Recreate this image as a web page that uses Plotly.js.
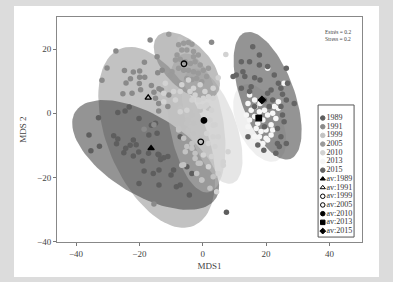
<!DOCTYPE html>
<html><head><meta charset="utf-8">
<script src="https://cdn.plot.ly/plotly-3.0.1.min.js"></script>
<style>
html,body{margin:0;padding:0;background:#dcdcdc;width:393px;height:282px;overflow:hidden}
#panel{position:absolute;left:14px;top:6px;width:365px;height:271px;background:#fff}
#chart{position:absolute;left:0;top:0;width:393px;height:282px}
</style></head><body>
<div id="panel"></div><div id="chart"></div>
<script>
// ---- data ----
const years = ['1989','1991','1999','2005','2010','2013','2015'];
const avLabels = ['av:1989','av:1991','av:1999','av:2005','av:2010','av:2013','av:2015'];

const pts1989 = [[-35.9,-6.8],[-35.3,-11.7],[-32.6,-10.3],[-32.9,-1.4],[-28.1,-7],[-26.8,-8],[-27.2,-9.5],[-26.8,0.3],[-24.5,0.7],[-23.2,2],[-24.3,-10.9],[-24.9,-12.3],[-22.9,-10],[-21.9,-8.3],[-21,-9.8],[-21.9,-13.3],[-20.2,-12.1],[-19,-14.9],[-17.1,-12.5],[-18.5,-18],[-15.6,-18.8],[-13.8,-17.7],[-14.1,-12.8],[-20.1,-21.9],[-13.8,-22.4],[-14.9,-3.1],[-14.4,-6.2],[-17,-6.8],[-13.8,-13],[-12.3,-13.9],[-11,-13.5],[-13.3,-14.4],[-10,-19.3],[-9.2,-17.7],[-8.3,-22.9],[-5,-16.7],[-3.4,-18.8],[-4.2,-25.5],[-7.1,-7.3],[-7.1,-22.4],[7.5,-30.9],[-20.1,-1.6],[-16.2,-3.7]];
const pts1991 = [[-27.4,19.5],[-30.2,14.2],[-31.8,10.3],[-24.7,13.4],[-21.9,12.9],[-19.9,13.2],[-18.4,16],[-24.2,9.5],[-22.8,10.8],[-19.9,11.3],[-18.3,11.3],[-20,9.3],[-25.2,6.1],[-22.3,6.3],[-19.6,7.4],[-16.2,8.7],[-14.2,12.7],[-12.8,13.5],[-15.4,6.6],[-13.8,7.7],[-16.6,22.9],[-14.4,17.7],[-13.9,3.1],[-14.9,4.7],[-13.9,0.7],[-15.4,-3.6],[-10.7,5.7],[-11,2.1],[-13,7.3],[-15.4,-28.3],[-18.5,-5],[2.8,22.2]];
const pts1999 = [[-7.1,1.6],[-4,0.7],[-0.8,1],[1.8,1.6],[-7.6,-5.2],[-4.5,-5.2],[-2.9,-6.3],[-5,-10.4],[-3.4,-10.9],[1.25,-11.5],[-2.4,-14.1],[-0.8,-15.6],[-6.6,-16.2],[-1.9,-18.8],[-0.3,-20.8],[3.3,-19.8],[-4.5,-2.1],[-2.9,-3.1],[-0.8,-7.8],[2.3,-23.4],[-5,-3.1],[-7.6,-4.7],[-4.5,-5.7],[-6,-7.8],[-3.4,-9.4],[-5.5,-12],[-2.4,-12.5],[-6,-16.1],[-1.4,-15.6],[-0.3,-20.8],[-6,0.5],[-3.4,-0.5],[-7.1,23.2]];
const pts2005 = [[-10.7,24.7],[-7.6,21.4],[-6,21.9],[-4.5,22.1],[-3.4,21.6],[-6.6,19.8],[-5,19.8],[-2.9,19.3],[-1.4,18.2],[-8.1,18.2],[-8.6,16.7],[-7.1,16.9],[-5.5,16.1],[-3.9,15.6],[-2.4,16.1],[-0.8,15.1],[-7.6,14.1],[-6,13.5],[-4.5,13.5],[-2.9,13],[-1.4,12.5],[0.2,13.5],[-5,10.9],[-3.4,10.6],[-1.9,10.9],[1.25,11.5],[-0.3,9.9],[1.8,14.1],[-9.7,13],[-7.1,9.4],[-2.9,17.7],[-10.2,12]];
const pts2010 = [[-2.9,7.8],[-0.8,8.9],[-4,6.8],[-2.4,5.7],[-3.4,4.2],[-1.3,4.2],[0.2,4.7],[1.25,2.6],[-0.8,2.1],[-5,1],[-7.1,0.5],[-11.8,9.4],[-12.3,6.3],[-12.3,3.6],[3.3,7.8],[4.9,11.1],[7.3,18.4],[-7.1,6.8],[3.3,4.7],[0.7,6.8],[1.8,5.2],[0.7,2.1],[2.8,1],[2.3,-2.1],[3.9,-3.6],[1.25,-6.3],[3.3,-7.3],[1.8,-9.4],[3.9,-10.4],[0.2,-13],[2.8,-13.5],[1.8,-16.7],[4.9,-18.8],[6.5,-15.1],[8,-12],[-4.5,10.4],[-6.6,8.9],[-9.2,6.8],[-8.6,4.2],[4.9,-7.3],[3.3,-3.7],[4.4,-24.5],[6.5,-16.2]];
const pts2013 = [[14.8,5.7],[16.4,4.2],[14.3,3.1],[16.6,2.1],[18.1,3.1],[15.3,1],[17.9,0.5],[19.5,1],[16.4,-1],[14.8,-2.1],[17.4,-3.1],[19,-2.1],[20.5,-0.5],[22.1,0],[23.1,-1.6],[21.6,-3.6],[20,-5.2],[18.4,-5.7],[16.9,-4.7],[17.9,-7.3],[20,-7.8],[21.6,-6.8],[19,-9.4],[20.5,-8.3],[14.3,-4.2],[16.4,-7.3],[23.9,3.6],[25.7,9.4],[20.5,14.1],[23.9,1.6],[22.6,2.1],[13.8,-0.5],[22.1,-5.2],[17.4,-1.6]];
const pts2015 = [[15.8,20.8],[17.9,18.2],[12.2,16.1],[14.8,16.1],[17.9,15.1],[20.5,14.6],[10.6,12],[12.7,13],[13.3,11.5],[16.4,11.1],[18.1,10.4],[22.6,12],[23.9,9.4],[21.6,7.3],[20.5,6.3],[24.7,7.8],[25.2,6],[26.4,4.2],[28.9,3.1],[12.2,7.8],[15.3,8.3],[9.6,11.5],[22.1,4.2],[19.5,4.2],[21,2.1],[24.7,2.1],[25.2,-0.5],[25.7,-2.6],[23.6,-4.7],[24.7,-7.3],[26.4,-9.4],[23.6,-9.4],[24.2,-10.4],[23.1,-12.5],[17.4,-9.9],[19.3,-11.5],[14.3,-7.3],[19.5,-4.2],[16.4,2.1],[14.8,6.8],[26.8,9.4],[26.4,14.1]];

// group centroids (av)
const avX = [-16.3, -17.2, -0.6, -5.9, 0.4, 17.7, 18.7];
const avY = [-10.9, 4.9, -8.9, 15.5, -2.2, -1.5, 4.2];

// dispersion ellipses: centre, semi-axes, rotation (deg)
const ellCx = [-18, -14.5, -2, -5, 3, 18, 20.5];
const ellCy = [-13, -7.5, -3, 15, -4, -3, 5.5];
const ellA  = [26, 30, 22, 13, 19, 13, 21];
const ellB  = [12.5, 15.5, 8.5, 7, 7.5, 7, 8.5];
const ellAng = [-31, -67, -80, -45, -70, -65, -70];

const stressText = 'Estrés = 0.2<br>Stress = 0.2';

// ---- styling ----
const ptColors = ['#5e5e5e','#8a8a8a','#c2c2c2','#9a9a9a','#d2d2d2','#f6f6f6','#646464'];
const ellFill = ['rgba(70,70,70,0.58)','rgba(120,120,120,0.45)','rgba(190,190,190,0.45)','rgba(110,110,110,0.45)','rgba(200,200,200,0.45)','rgba(228,228,228,0.6)','rgba(70,70,70,0.58)'];
const avSymbols = ['triangle-up','triangle-up-open','circle-open','circle-open','circle','square','diamond'];
const serif = 'Liberation Serif, Times New Roman, serif';

const allPts = [pts1989, pts1991, pts1999, pts2005, pts2010, pts2013, pts2015];
const traces = [];

// ellipses
const ellOrder = [1,0,2,4,3,5,6];
ellOrder.forEach(i => {
  const ex = [], ey = [];
  const th = ellAng[i] * Math.PI / 180;
  for (let k = 0; k <= 100; k++) {
    const t = 2 * Math.PI * k / 100;
    const u = ellA[i] * Math.cos(t), v = ellB[i] * Math.sin(t);
    ex.push(ellCx[i] + u * Math.cos(th) - v * Math.sin(th));
    ey.push(ellCy[i] + u * Math.sin(th) + v * Math.cos(th));
  }
  traces.push({x: ex, y: ey, type: 'scatter', mode: 'lines', fill: 'toself',
    fillcolor: ellFill[i], line: {width: 0, color: ellFill[i]}, hoverinfo: 'skip', showlegend: false});
});

// points
allPts.forEach((p, i) => {
  traces.push({x: p.map(d => d[0]), y: p.map(d => d[1]), type: 'scatter', mode: 'markers',
    marker: {size: 5.5, color: ptColors[i], line: {width: 0}}, name: years[i], showlegend: false});
});

// centroids
avX.forEach((_, i) => {
  traces.push({x: [avX[i]], y: [avY[i]], type: 'scatter', mode: 'markers',
    marker: {size: 5.5, symbol: avSymbols[i], color: '#000', line: {width: 1.3, color: '#000'}},
    name: avLabels[i], showlegend: false});
});

// legend drawn on an overlay axis
const legLabels = years.concat(avLabels);
const legY = legLabels.map((_, i) => i + 1);
const legSym = ['circle','circle','circle','circle','circle','circle','circle'].concat(avSymbols);
const legCol = ptColors.concat(['#000','#000','#000','#000','#000','#000','#000']);
traces.push({x: legLabels.map(() => 0.13), y: legY, xaxis: 'x2', yaxis: 'y2', type: 'scatter',
  mode: 'markers+text', text: legLabels, textposition: 'middle right', cliponaxis: false,
  textfont: {family: serif, size: 8, color: '#333'},
  marker: {size: 4.5, symbol: legSym, color: legCol, line: {width: 1, color: legCol}},
  hoverinfo: 'skip', showlegend: false});

const layout = {
  width: 393, height: 282,
  margin: {l: 57, r: 31, t: 17, b: 40},
  paper_bgcolor: 'rgba(0,0,0,0)', plot_bgcolor: '#fff',
  showlegend: false,
  font: {family: serif, color: '#333'},
  xaxis: {range: [-46, 50.3], tickvals: [-40, -20, 0, 20, 40], ticks: 'outside', ticklen: 3,
    tickcolor: '#777', showline: true, mirror: true, linecolor: '#888', linewidth: 1,
    showgrid: false, zeroline: false, tickfont: {family: serif, size: 9, color: '#444'},
    title: {text: 'MDS1', font: {family: serif, size: 9, color: '#444'}, standoff: 4}},
  yaxis: {range: [-40.2, 30.1], tickvals: [-40, -20, 0, 20], ticks: 'outside', ticklen: 3,
    tickcolor: '#777', showline: true, mirror: true, linecolor: '#888', linewidth: 1,
    showgrid: false, zeroline: false, tickfont: {family: serif, size: 9, color: '#444'},
    title: {text: 'MDS 2', font: {family: serif, size: 9, color: '#444'}, standoff: 8}},
  xaxis2: {domain: [0.856, 0.974], range: [0, 1], anchor: 'y2', visible: false, fixedrange: true},
  yaxis2: {domain: [0.022, 0.609], range: [14.69, -0.5], anchor: 'x2', visible: false, fixedrange: true},
  shapes: [{type: 'rect', xref: 'paper', yref: 'paper', x0: 0.856, x1: 0.974, y0: 0.022, y1: 0.609,
    fillcolor: 'rgba(0,0,0,0)', line: {color: '#555', width: 1}, layer: 'above'}],
  annotations: [{xref: 'paper', yref: 'paper', x: 0.97, y: 0.955, xanchor: 'right', yanchor: 'top',
    text: stressText, showarrow: false, align: 'left', font: {family: serif, size: 5.5, color: '#444'}}]
};

Plotly.newPlot('chart', traces, layout, {displayModeBar: false, staticPlot: true});
</script>
</body></html>
